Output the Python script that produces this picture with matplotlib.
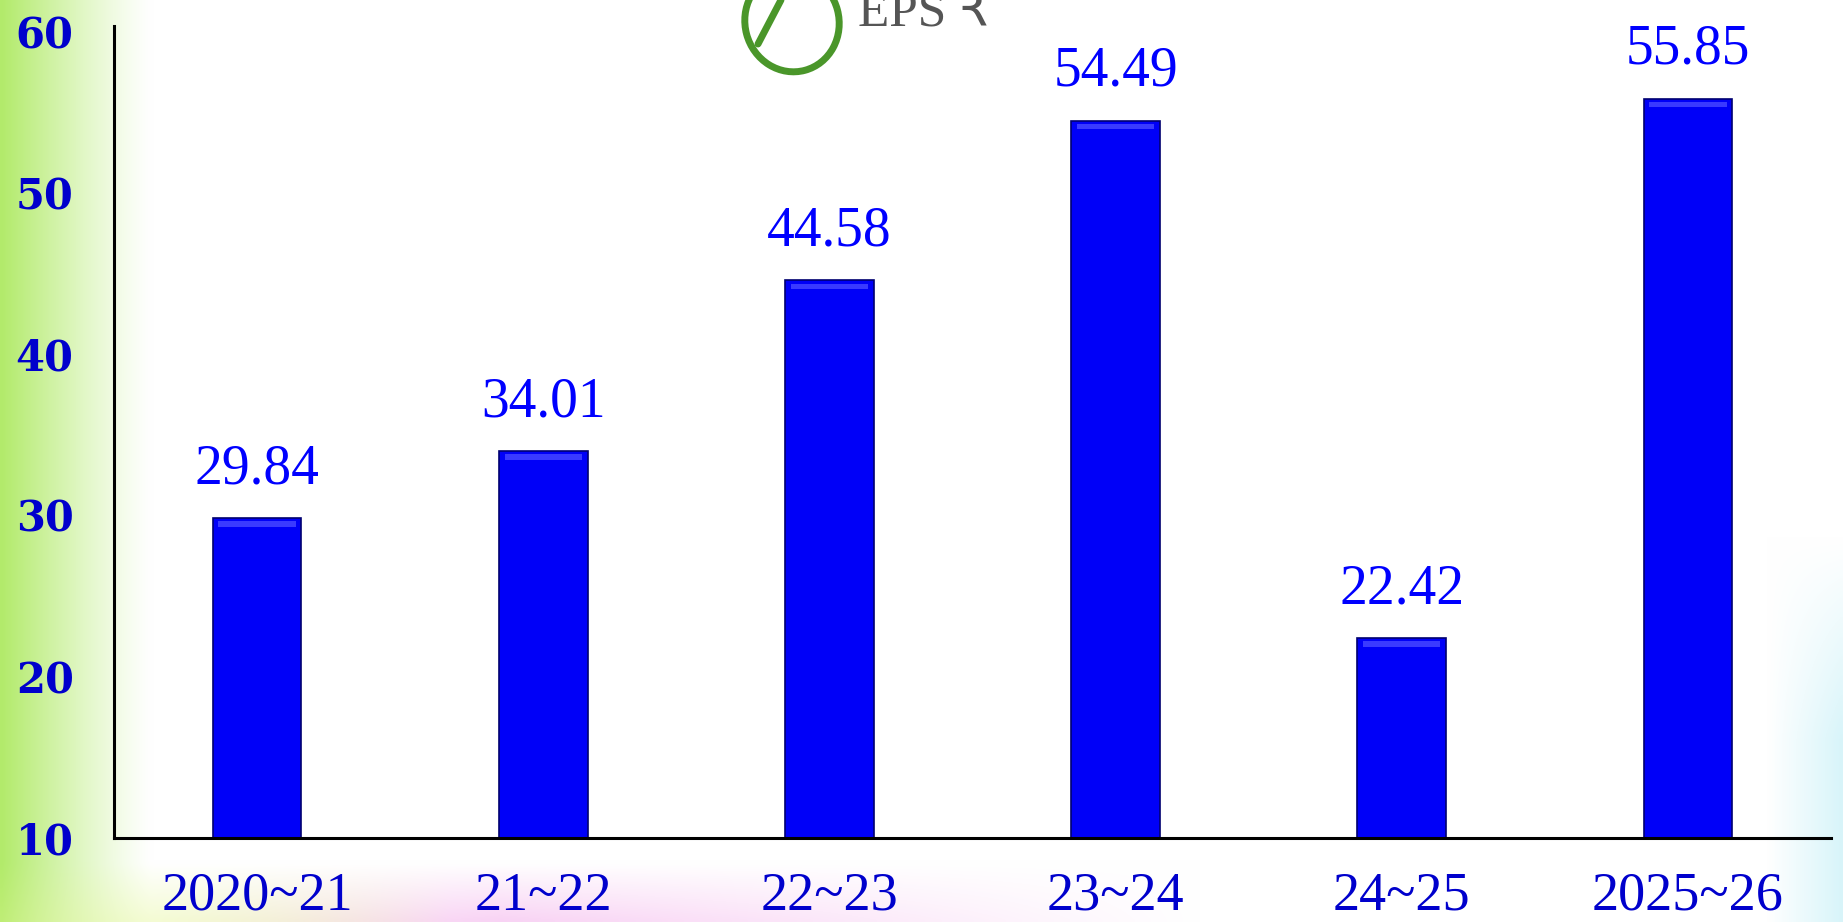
import numpy as np
import matplotlib
matplotlib.use("Agg")
import matplotlib.pyplot as plt
from matplotlib.patches import Ellipse, Arc

# EPS per year
years = ["2020~21", "21~22", "22~23", "23~24", "24~25", "2025~26"]
eps = [29.84, 34.01, 44.58, 54.49, 22.42, 55.85]
y_ticks = [10, 20, 30, 40, 50, 60]

W, H = 1843, 922
fig = plt.figure(figsize=(W / 100, H / 100), dpi=100)
fig.patch.set_facecolor("white")

# soft decorative backdrop: green on the left, pink/yellow along the bottom
bg = fig.add_axes([0, 0, 1, 1], zorder=0)
xx, yy = np.meshgrid(np.linspace(0, W, 400), np.linspace(0, H, 200))
img = np.ones((200, 400, 3))
left = np.clip(1 - xx / 150, 0, 1) ** 1.2
green = np.array([0.70, 0.92, 0.42])
img = img * (1 - left[..., None]) + green * left[..., None]
bottom = np.clip((yy - 865) / 57, 0, 1)
pink = np.array([0.97, 0.80, 0.95])
yellow = np.array([0.90, 0.97, 0.60])
mix = np.clip((xx - 150) / 300, 0, 1)[..., None]
band = yellow * (1 - mix) + pink * mix
fade = np.clip(1 - np.abs(xx - 500) / 700, 0, 1)[..., None] * bottom[..., None]
img = img * (1 - fade * 0.85) + band * fade * 0.85
right = np.clip((xx - 1770) / 73, 0, 1) * np.clip((yy - 540) / 200, 0, 1)
cyan = np.array([0.85, 0.96, 0.98])
img = img * (1 - right[..., None]) + cyan * right[..., None]
bg.imshow(img, extent=[0, W, H, 0], aspect="auto", interpolation="bilinear")
bg.set_xlim(0, W)
bg.set_ylim(H, 0)
bg.axis("off")

# logo and heading, partly cut by the top edge
logo = "#4a962a"
bg.add_patch(Ellipse((792, 22), 94, 100, angle=-15, fill=False, ec=logo, lw=5, zorder=2))
bg.plot([781, 758], [0, 44], color=logo, lw=5, solid_capstyle="round", zorder=2)
bg.add_patch(Arc((810, -8), 50, 40, theta1=200, theta2=340, ec=logo, lw=5, zorder=2))
bg.text(858, 26, "EPS \u20b9", fontsize=37, color="#555555",
        family=["Liberation Serif", "DejaVu Sans"], va="baseline", ha="left", zorder=3)

ax = fig.add_axes([114 / W, 1 - 838 / H, (1831 - 114) / W, (838 - 26) / H], zorder=1)
ax.patch.set_alpha(0)

x = np.arange(len(years))
vals = np.array(eps)
base = 10
ax.bar(x, vals - base, bottom=base, width=0.31, color="#0000f8",
       edgecolor="#000070", linewidth=1.2, zorder=2)
# bevel highlight along the top of each bar
ax.bar(x, 0.35, bottom=vals - 0.55, width=0.27, color="#3a3aff", linewidth=0, zorder=3)

for xi, v in zip(x, vals):
    ax.text(xi, v + 1.4, f"{v:.2f}", ha="center", va="bottom", fontsize=40,
            color="#0000ff", family="Liberation Serif")

ax.set_xlim(-0.5, 5.5)
ax.set_ylim(10, 60.35)
ax.set_yticks(y_ticks)
ax.set_xticks(x)
ax.set_xticklabels(years)
ax.tick_params(length=0)
ax.tick_params(axis="x", pad=24)
ax.tick_params(axis="y", pad=29)
for lab in ax.get_xticklabels():
    lab.set_fontfamily("Liberation Serif")
    lab.set_fontsize(39)
    lab.set_color("#0000cc")
for lab in ax.get_yticklabels():
    lab.set_fontfamily("DejaVu Serif")
    lab.set_fontweight("bold")
    lab.set_fontsize(30)
    lab.set_color("#0000cc")

for s in ["top", "right"]:
    ax.spines[s].set_visible(False)
for s in ["left", "bottom"]:
    ax.spines[s].set_linewidth(2.2)
    ax.spines[s].set_color("black")

fig.savefig("out.png", dpi=100)
